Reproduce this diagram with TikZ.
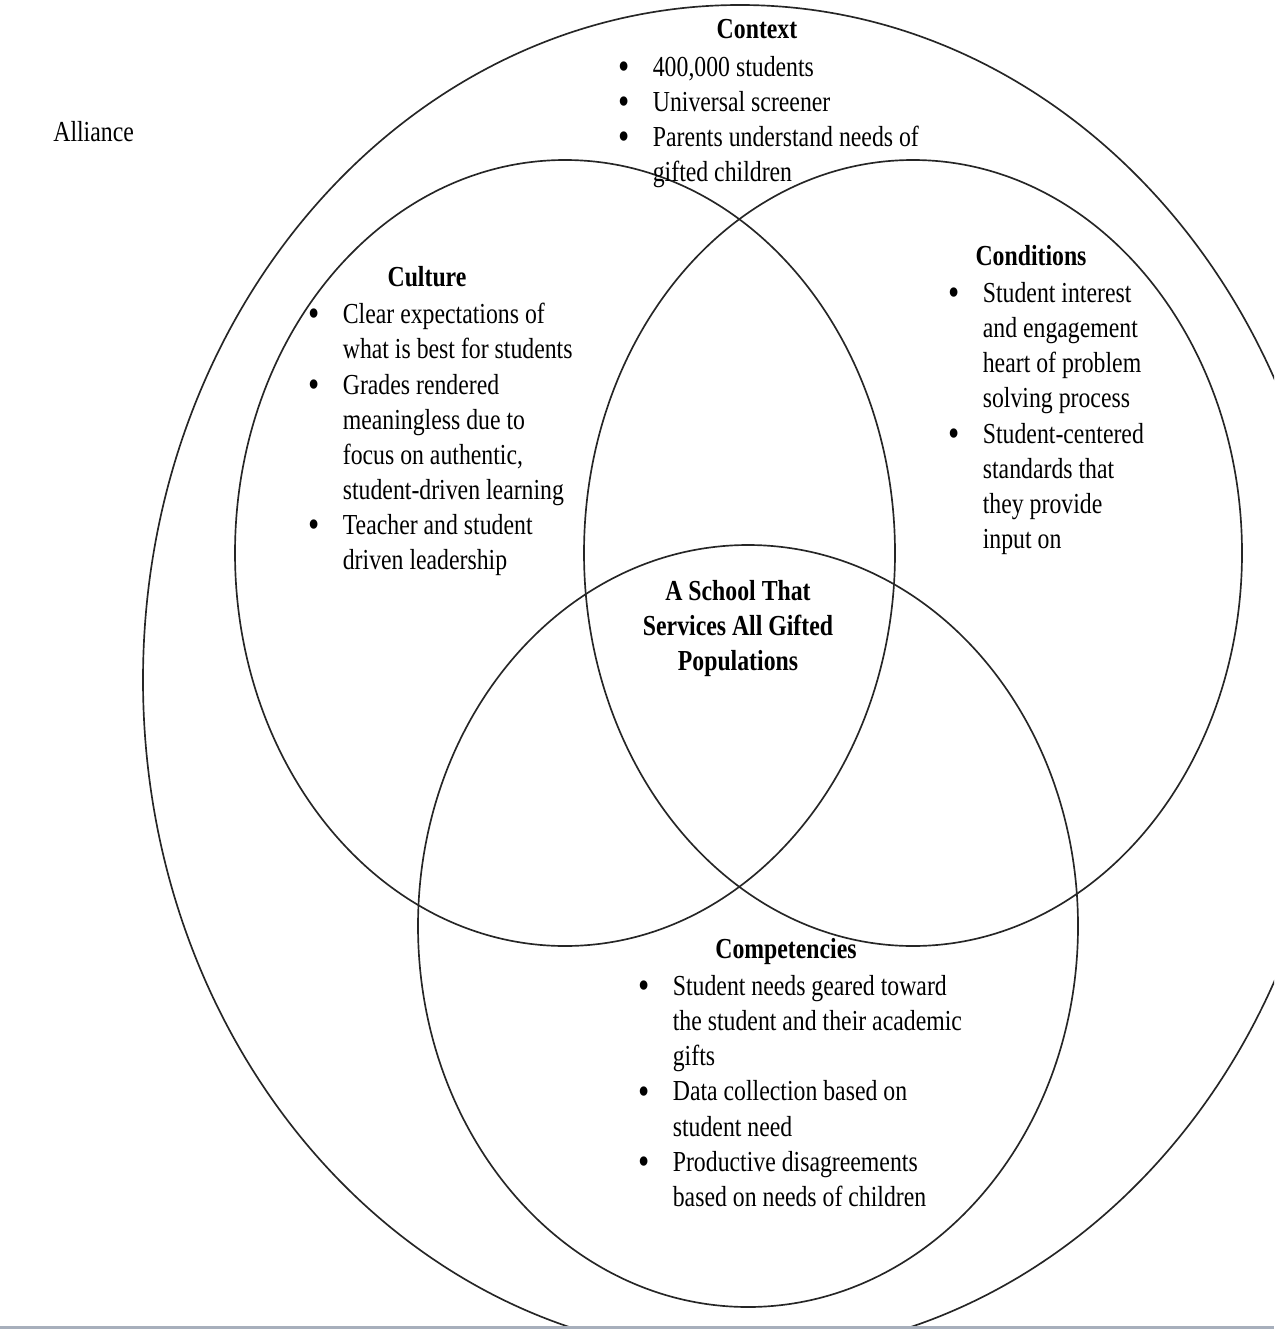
\documentclass[tikz,border=0pt]{standalone}
\usepackage{fontspec}
\usepackage{graphicx}
\setmainfont{Liberation Serif}[FakeStretch=0.82]
\definecolor{ring-line}{HTML}{262626}
\definecolor{rule-grey}{HTML}{A7AFBC}
\newcommand{\bpt}{\makebox[0.69cm][l]{\raisebox{-0.11em}{\scalebox{1.35}{\textbullet}}}}
\newcommand{\bcont}{\hspace*{0.69cm}}
\tikzset{
  ring/.style={draw=ring-line, line width=0.95pt},
  body-text/.style={font=\fontsize{16.5}{20}\selectfont, inner sep=0pt},
  title-text/.style={body-text, font=\fontsize{16.5}{20}\selectfont\bfseries, anchor=base},
  % Hanging bullets, lines broken as printed
  bullet-list/.style={body-text, align=left, anchor=north west}
}

\begin{document}
\begin{tikzpicture}[x=0.02cm, y=-0.02cm]
  \useasboundingbox (0,0) rectangle (1274,1331);

  % ---- Outer ring, cut off by the page edge -------------------------------
  \begin{scope}
    \clip (0,0) rectangle (1274,1326);
    \draw[ring] (740,680) ellipse [x radius=597, y radius=675];
  \end{scope}
  \draw[rule-grey, line width=1.7pt] (0,1327) -- (1274,1327);

  % ---- Three overlapping rings --------------------------------------------
  \draw[ring] (565,553) ellipse [x radius=330, y radius=393];
  \draw[ring] (913,553) ellipse [x radius=329, y radius=393];
  \draw[ring] (748,926) ellipse [x radius=330, y radius=381];

  % ---- Outer label ----------------------------------------------------------
  \node[body-text, anchor=base west] (alliance) at (53,142) {Alliance};

  % ---- Context --------------------------------------------------------------
  \node[title-text] (context) at (757,39) {Context};
  \node[bullet-list] (contextlist) at (618,56)
       {\bpt 400,000 students\\
        \bpt Universal screener\\
        \bpt Parents understand needs of\\
        \bcont gifted children};

  % ---- Culture --------------------------------------------------------------
  \node[title-text] (culture) at (427,286) {Culture};
  \node[bullet-list] (culturelist) at (308,303)
       {\bpt Clear expectations of\\
        \bcont what is best for students\\
        \bpt Grades rendered\\
        \bcont meaningless due to\\
        \bcont focus on authentic,\\
        \bcont student-driven learning\\
        \bpt Teacher and student\\
        \bcont driven leadership};

  % ---- Conditions -----------------------------------------------------------
  \node[title-text] (conditions) at (1031,265) {Conditions};
  \node[bullet-list] (conditionslist) at (948,282)
       {\bpt Student interest\\
        \bcont and engagement\\
        \bcont heart of problem\\
        \bcont solving process\\
        \bpt Student-centered\\
        \bcont standards that\\
        \bcont they provide\\
        \bcont input on};

  % ---- Centre ---------------------------------------------------------------
  \node[body-text, font=\fontsize{16.5}{20}\selectfont\bfseries, align=center, anchor=north] (school) at (738,580)
       {A School That\\ Services All Gifted\\ Populations};

  % ---- Competencies ---------------------------------------------------------
  \node[title-text] (competencies) at (786,958) {Competencies};
  \node[bullet-list] (competencieslist) at (638,975)
       {\bpt Student needs geared toward\\
        \bcont the student and their academic\\
        \bcont gifts\\
        \bpt Data collection based on\\
        \bcont student need\\
        \bpt Productive disagreements\\
        \bcont based on needs of children};

\end{tikzpicture}
\end{document}
